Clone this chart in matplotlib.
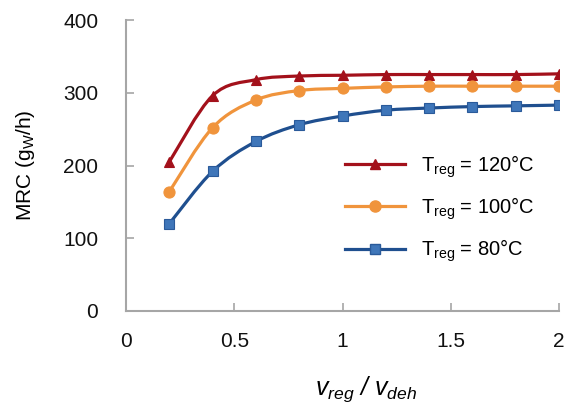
import numpy as np
import matplotlib
matplotlib.use("Agg")
import matplotlib.pyplot as plt
from matplotlib.path import Path
from matplotlib.patches import PathPatch
from matplotlib.lines import Line2D

plt.rcParams['font.family'] = ['Liberation Sans', 'DejaVu Sans']
plt.rcParams['mathtext.fontset'] = 'custom'
plt.rcParams['mathtext.rm'] = 'Liberation Sans'
plt.rcParams['mathtext.it'] = 'Liberation Sans:italic'

ratio = [0.2, 0.4, 0.6, 0.8, 1.0, 1.2, 1.4, 1.6, 1.8, 2.0]
mrc_120 = [205, 296, 318, 323, 324, 325, 325, 325, 325, 326]
mrc_100 = [164, 252, 290, 303, 306, 308, 309, 309, 309, 309]
mrc_80 = [120, 192, 233, 256, 268, 276, 279, 281, 282, 283]
labels = ['$\\mathrm{T_{reg}}$ = 120°C', '$\\mathrm{T_{reg}}$ = 100°C', '$\\mathrm{T_{reg}}$ = 80°C']
x_ticks = [0, 0.5, 1, 1.5, 2]
x_tick_labels = ['0', '0.5', '1', '1.5', '2']
y_ticks = [0, 100, 200, 300, 400]

line_colors = ['#A3111B', '#F0943C', '#1F4F8F']
marker_faces = ['#A3111B', '#F0943C', '#3F76B9']
marker_edges = ['#A3111B', '#F0943C', '#2A5A9A']
markers = ['^', 'o', 's']


def smooth_path(xs, ys, t=1/6):
    # Catmull-Rom style bezier through the given points (Excel "smoothed line")
    xs = np.asarray(xs, float); ys = np.asarray(ys, float)
    n = len(xs)
    verts = [(xs[0], ys[0])]
    codes = [Path.MOVETO]
    for i in range(n - 1):
        p0 = np.array([xs[max(i - 1, 0)], ys[max(i - 1, 0)]])
        p1 = np.array([xs[i], ys[i]])
        p2 = np.array([xs[i + 1], ys[i + 1]])
        p3 = np.array([xs[min(i + 2, n - 1)], ys[min(i + 2, n - 1)]])
        c1 = p1 + (p2 - p0) * t
        c2 = p2 - (p3 - p1) * t
        verts += [tuple(c1), tuple(c2), tuple(p2)]
        codes += [Path.CURVE4] * 3
    return Path(verts, codes)


fig = plt.figure(figsize=(5.69, 4.07), dpi=100)
ax = fig.add_axes([126/569, 1 - 311/407, (559-126)/569, (311-20)/407])

series = [mrc_120, mrc_100, mrc_80]
handles = []
for i, ys in enumerate(series):
    patch = PathPatch(smooth_path(ratio, ys), facecolor='none',
                      edgecolor=line_colors[i], lw=2.3, zorder=2)
    ax.add_patch(patch)
    ms = 7.5 if i != 1 else 8
    ax.plot(ratio, ys, linestyle='none', marker=markers[i], markersize=ms,
            markerfacecolor=marker_faces[i], markeredgecolor=marker_edges[i],
            markeredgewidth=0.8, zorder=3)
    handles.append(Line2D([], [], color=line_colors[i], lw=2.3, marker=markers[i],
                          markersize=ms, markerfacecolor=marker_faces[i],
                          markeredgecolor=marker_edges[i]))

ax.set_xlim(0, 2)
ax.set_ylim(0, 400)
ax.set_xticks(x_ticks)
ax.set_xticklabels(x_tick_labels)
ax.set_yticks(y_ticks)

for s in ['top', 'right']:
    ax.spines[s].set_visible(False)
for s in ['left', 'bottom']:
    ax.spines[s].set_color('#A6A6A6')
    ax.spines[s].set_linewidth(1.5)
ax.tick_params(axis='both', direction='in', length=6, width=1.2, color='#A6A6A6',
               labelsize=15, labelcolor='#111111')
ax.tick_params(axis='x', pad=15)
ax.tick_params(axis='y', pad=20)

ax.set_ylabel('MRC (g$_{\\mathrm{W}}$/h)', fontsize=15)
ax.yaxis.set_label_coords(-0.205, 0.5)
ax.text(0.555, -0.27, '$v_{reg}$ / $v_{deh}$', transform=ax.transAxes,
        fontsize=18, ha='center', va='center', style='italic')

leg = ax.legend(handles, labels, loc='upper left', bbox_to_anchor=(0.463, 0.605),
                frameon=False, fontsize=14.5, handlelength=3.0, handletextpad=0.8,
                labelspacing=0.78)

fig.savefig('out.png', dpi=100)
